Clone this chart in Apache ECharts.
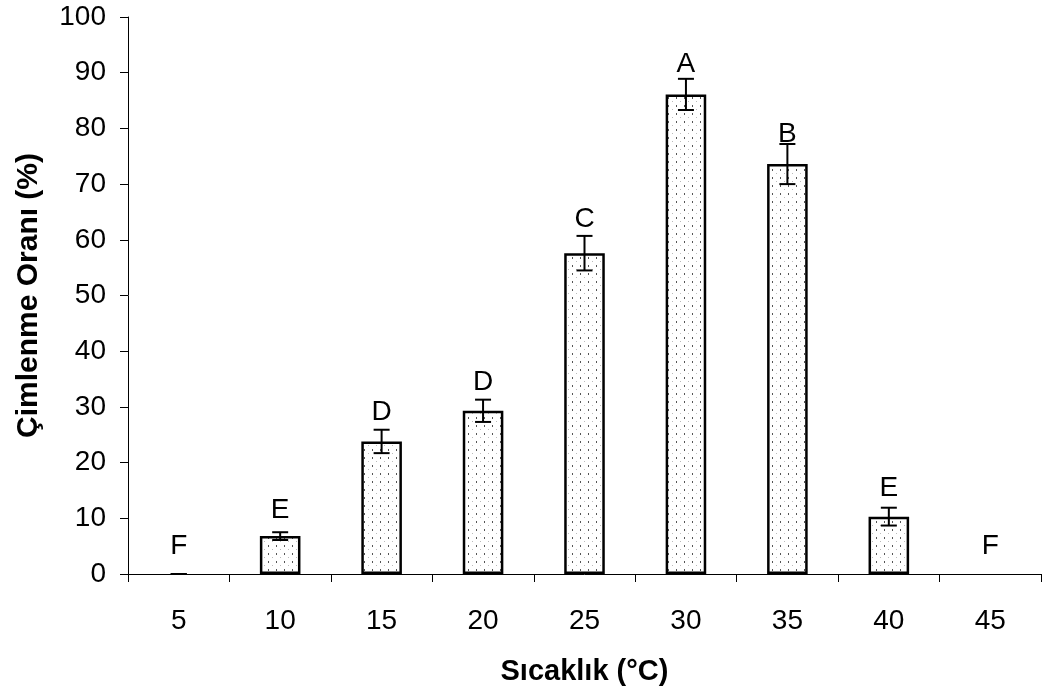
<!DOCTYPE html>
<html>
<head>
<meta charset="utf-8">
<script src="https://cdn.jsdelivr.net/npm/echarts@6/dist/echarts.min.js"></script>
<style>
html,body{margin:0;padding:0;background:#fff;}
#chart{width:1046px;height:691px;}
</style>
</head>
<body>
<div id="chart"></div>
<script>
// ---- data ----
var categories = ['5', '10', '15', '20', '25', '30', '35', '40', '45'];
var means = [0, 6.8, 23.8, 29.3, 57.6, 86.1, 73.6, 10.3, 0];
var errors = [0, 0.7, 2.1, 2.0, 3.1, 2.8, 3.6, 1.6, null];
var letters = ['F', 'E', 'D', 'D', 'C', 'A', 'B', 'E', 'F'];
var letterY = [4.9, 11.4, 29.0, 34.5, 63.6, 91.6, 78.9, 15.3, 4.9];
var yTicks = [0, 10, 20, 30, 40, 50, 60, 70, 80, 90, 100];

// dotted fill pattern
var pc = document.createElement('canvas');
pc.width = 8; pc.height = 8;
var pctx = pc.getContext('2d');
pctx.fillStyle = '#ffffff';
pctx.fillRect(0, 0, 8, 8);
pctx.fillStyle = '#555555';
pctx.fillRect(4, 1, 1, 2);
pctx.fillStyle = '#bbbbbb';
pctx.fillRect(0, 5, 1, 1);

var chart = echarts.init(document.getElementById('chart'));
var FONT = '"Liberation Sans", Arial, sans-serif';

var barData = means.map(function (v) {
  return v === 0 ? { value: v, itemStyle: { borderWidth: 0 } } : v;
});
var errData = categories.map(function (c, i) { return [i, means[i]]; });
var letterData = categories.map(function (c, i) { return [i, letterY[i]]; });

chart.setOption({
  animation: false,
  backgroundColor: '#ffffff',
  grid: { left: 128, right: 5, top: 17, bottom: 117, containLabel: false },
  xAxis: {
    type: 'category',
    data: categories,
    boundaryGap: true,
    name: 'Sıcaklık (°C)',
    nameLocation: 'middle',
    nameGap: 83,
    nameTextStyle: { fontFamily: FONT, fontSize: 29, fontWeight: 'bold', color: '#000' },
    axisLine: { lineStyle: { color: '#000', width: 1 } },
    axisTick: { show: true, length: 8, alignWithLabel: false, lineStyle: { color: '#000' } },
    axisLabel: { fontFamily: FONT, fontSize: 28, color: '#000', margin: 33 },
    splitLine: { show: false }
  },
  yAxis: {
    type: 'value',
    min: yTicks[0],
    max: yTicks[yTicks.length - 1],
    interval: yTicks[1] - yTicks[0],
    name: 'Çimlenme Oranı (%)',
    nameLocation: 'middle',
    nameGap: 84,
    nameRotate: 90,
    nameTextStyle: { fontFamily: FONT, fontSize: 30, fontWeight: 'bold', color: '#000' },
    axisLine: { show: true, lineStyle: { color: '#000', width: 1 } },
    axisTick: { show: true, length: 8, lineStyle: { color: '#000' } },
    axisLabel: { fontFamily: FONT, fontSize: 28, color: '#000', margin: 22 },
    splitLine: { show: false }
  },
  series: [
    {
      type: 'bar',
      data: barData,
      barWidth: '40%',
      itemStyle: {
        color: { image: pc, repeat: 'repeat' },
        borderColor: '#000',
        borderWidth: 2.5
      },
      z: 2
    },
    {
      type: 'custom',
      data: errData,
      z: 5,
      renderItem: function (params, api) {
        var e = errors[params.dataIndex];
        if (e === null || e === undefined) return null;
        var i = api.value(0), m = api.value(1);
        var top = api.coord([i, m + e]);
        var bot = api.coord([i, m - e]);
        var hw = 8;
        var st = { stroke: '#000', lineWidth: 2 };
        return {
          type: 'group',
          children: [
            { type: 'line', shape: { x1: top[0], y1: top[1], x2: bot[0], y2: bot[1] }, style: st },
            { type: 'line', shape: { x1: top[0] - hw, y1: top[1], x2: top[0] + hw, y2: top[1] }, style: st },
            { type: 'line', shape: { x1: bot[0] - hw, y1: bot[1], x2: bot[0] + hw, y2: bot[1] }, style: st }
          ]
        };
      }
    },
    {
      type: 'custom',
      data: letterData,
      z: 6,
      renderItem: function (params, api) {
        var p = api.coord([api.value(0), api.value(1)]);
        return {
          type: 'text',
          x: p[0], y: p[1],
          style: {
            text: letters[params.dataIndex],
            fontFamily: FONT, fontSize: 28, fill: '#000',
            align: 'center', verticalAlign: 'middle'
          }
        };
      }
    }
  ]
});
</script>
</body>
</html>
